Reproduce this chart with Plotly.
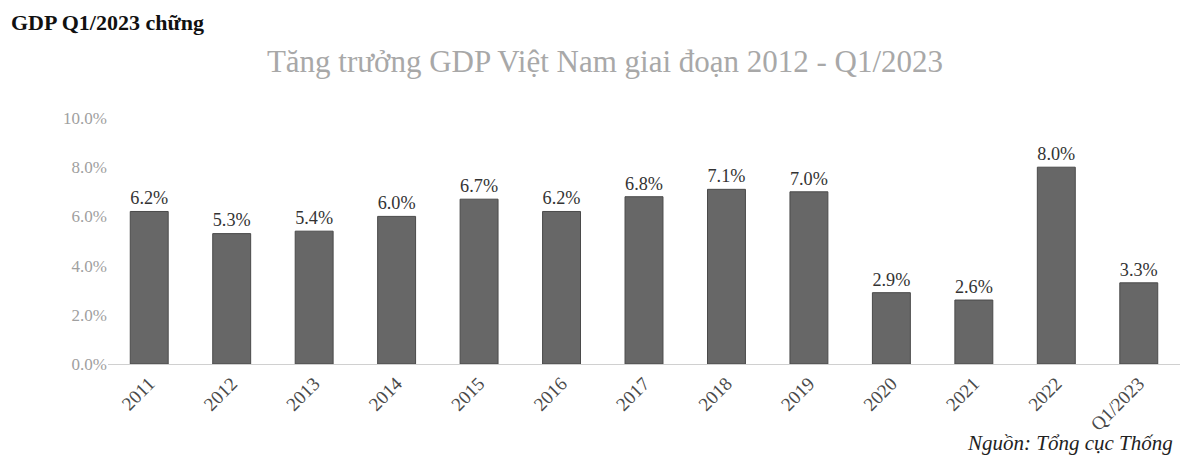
import plotly.graph_objects as go

categories = ['2011', '2012', '2013', '2014', '2015', '2016', '2017',
              '2018', '2019', '2020', '2021', '2022', 'Q1/2023']
growth = [6.2, 5.3, 5.4, 6.0, 6.7, 6.2, 6.8, 7.1, 7.0, 2.9, 2.6, 8.0, 3.3]
y_ticks = [0, 2, 4, 6, 8, 10]
y_tick_labels = ['0.0%', '2.0%', '4.0%', '6.0%', '8.0%', '10.0%']

serif = 'Liberation Serif, Times New Roman, serif'

fig = go.Figure(go.Bar(
    x=categories,
    y=growth,
    text=[f'{v:.1f}%' for v in growth],
    textposition='outside',
    textfont=dict(family=serif, size=22, color='#333333'),
    cliponaxis=False,
    marker=dict(color='#676767', line=dict(color='#4a4a4a', width=1)),
    hoverinfo='skip',
))

fig.update_layout(
    width=1194,
    height=459,
    paper_bgcolor='white',
    plot_bgcolor='white',
    showlegend=False,
    bargap=0.54,
    margin=dict(l=100, r=22, t=110, b=103),
    font=dict(family=serif),
    title=dict(
        text='Tăng trưởng GDP Việt Nam giai đoạn 2012 - Q1/2023',
        font=dict(family=serif, size=31, color='#a8a8a8'),
        x=0.5, xanchor='center',
        y=0.885, yanchor='middle',
    ),
    xaxis=dict(
        tickangle=-45,
        tickfont=dict(family=serif, size=19, color='#4a4a4a'),
        showline=True,
        linecolor='#d0d0d0',
        linewidth=1,
        showgrid=False,
    ),
    yaxis=dict(
        range=[0, 10],
        tickvals=y_ticks,
        ticktext=y_tick_labels,
        tickfont=dict(family=serif, size=17, color='#a0a0a0'),
        showgrid=False,
        zeroline=False,
        showline=False,
    ),
    annotations=[
        dict(
            text='<b>GDP Q1/2023 chững</b>',
            xref='paper', yref='paper',
            x=-0.092, y=1.447,
            xanchor='left', yanchor='top',
            showarrow=False,
            font=dict(family=serif, size=22, color='#111111'),
        ),
        dict(
            text='<i>Nguồn: Tổng cục Thống</i>',
            xref='paper', yref='paper',
            x=0.995, y=-0.38,
            xanchor='right', yanchor='bottom',
            showarrow=False,
            font=dict(family=serif, size=21, color='#222222'),
        ),
    ],
)

fig.write_html('out.html')
